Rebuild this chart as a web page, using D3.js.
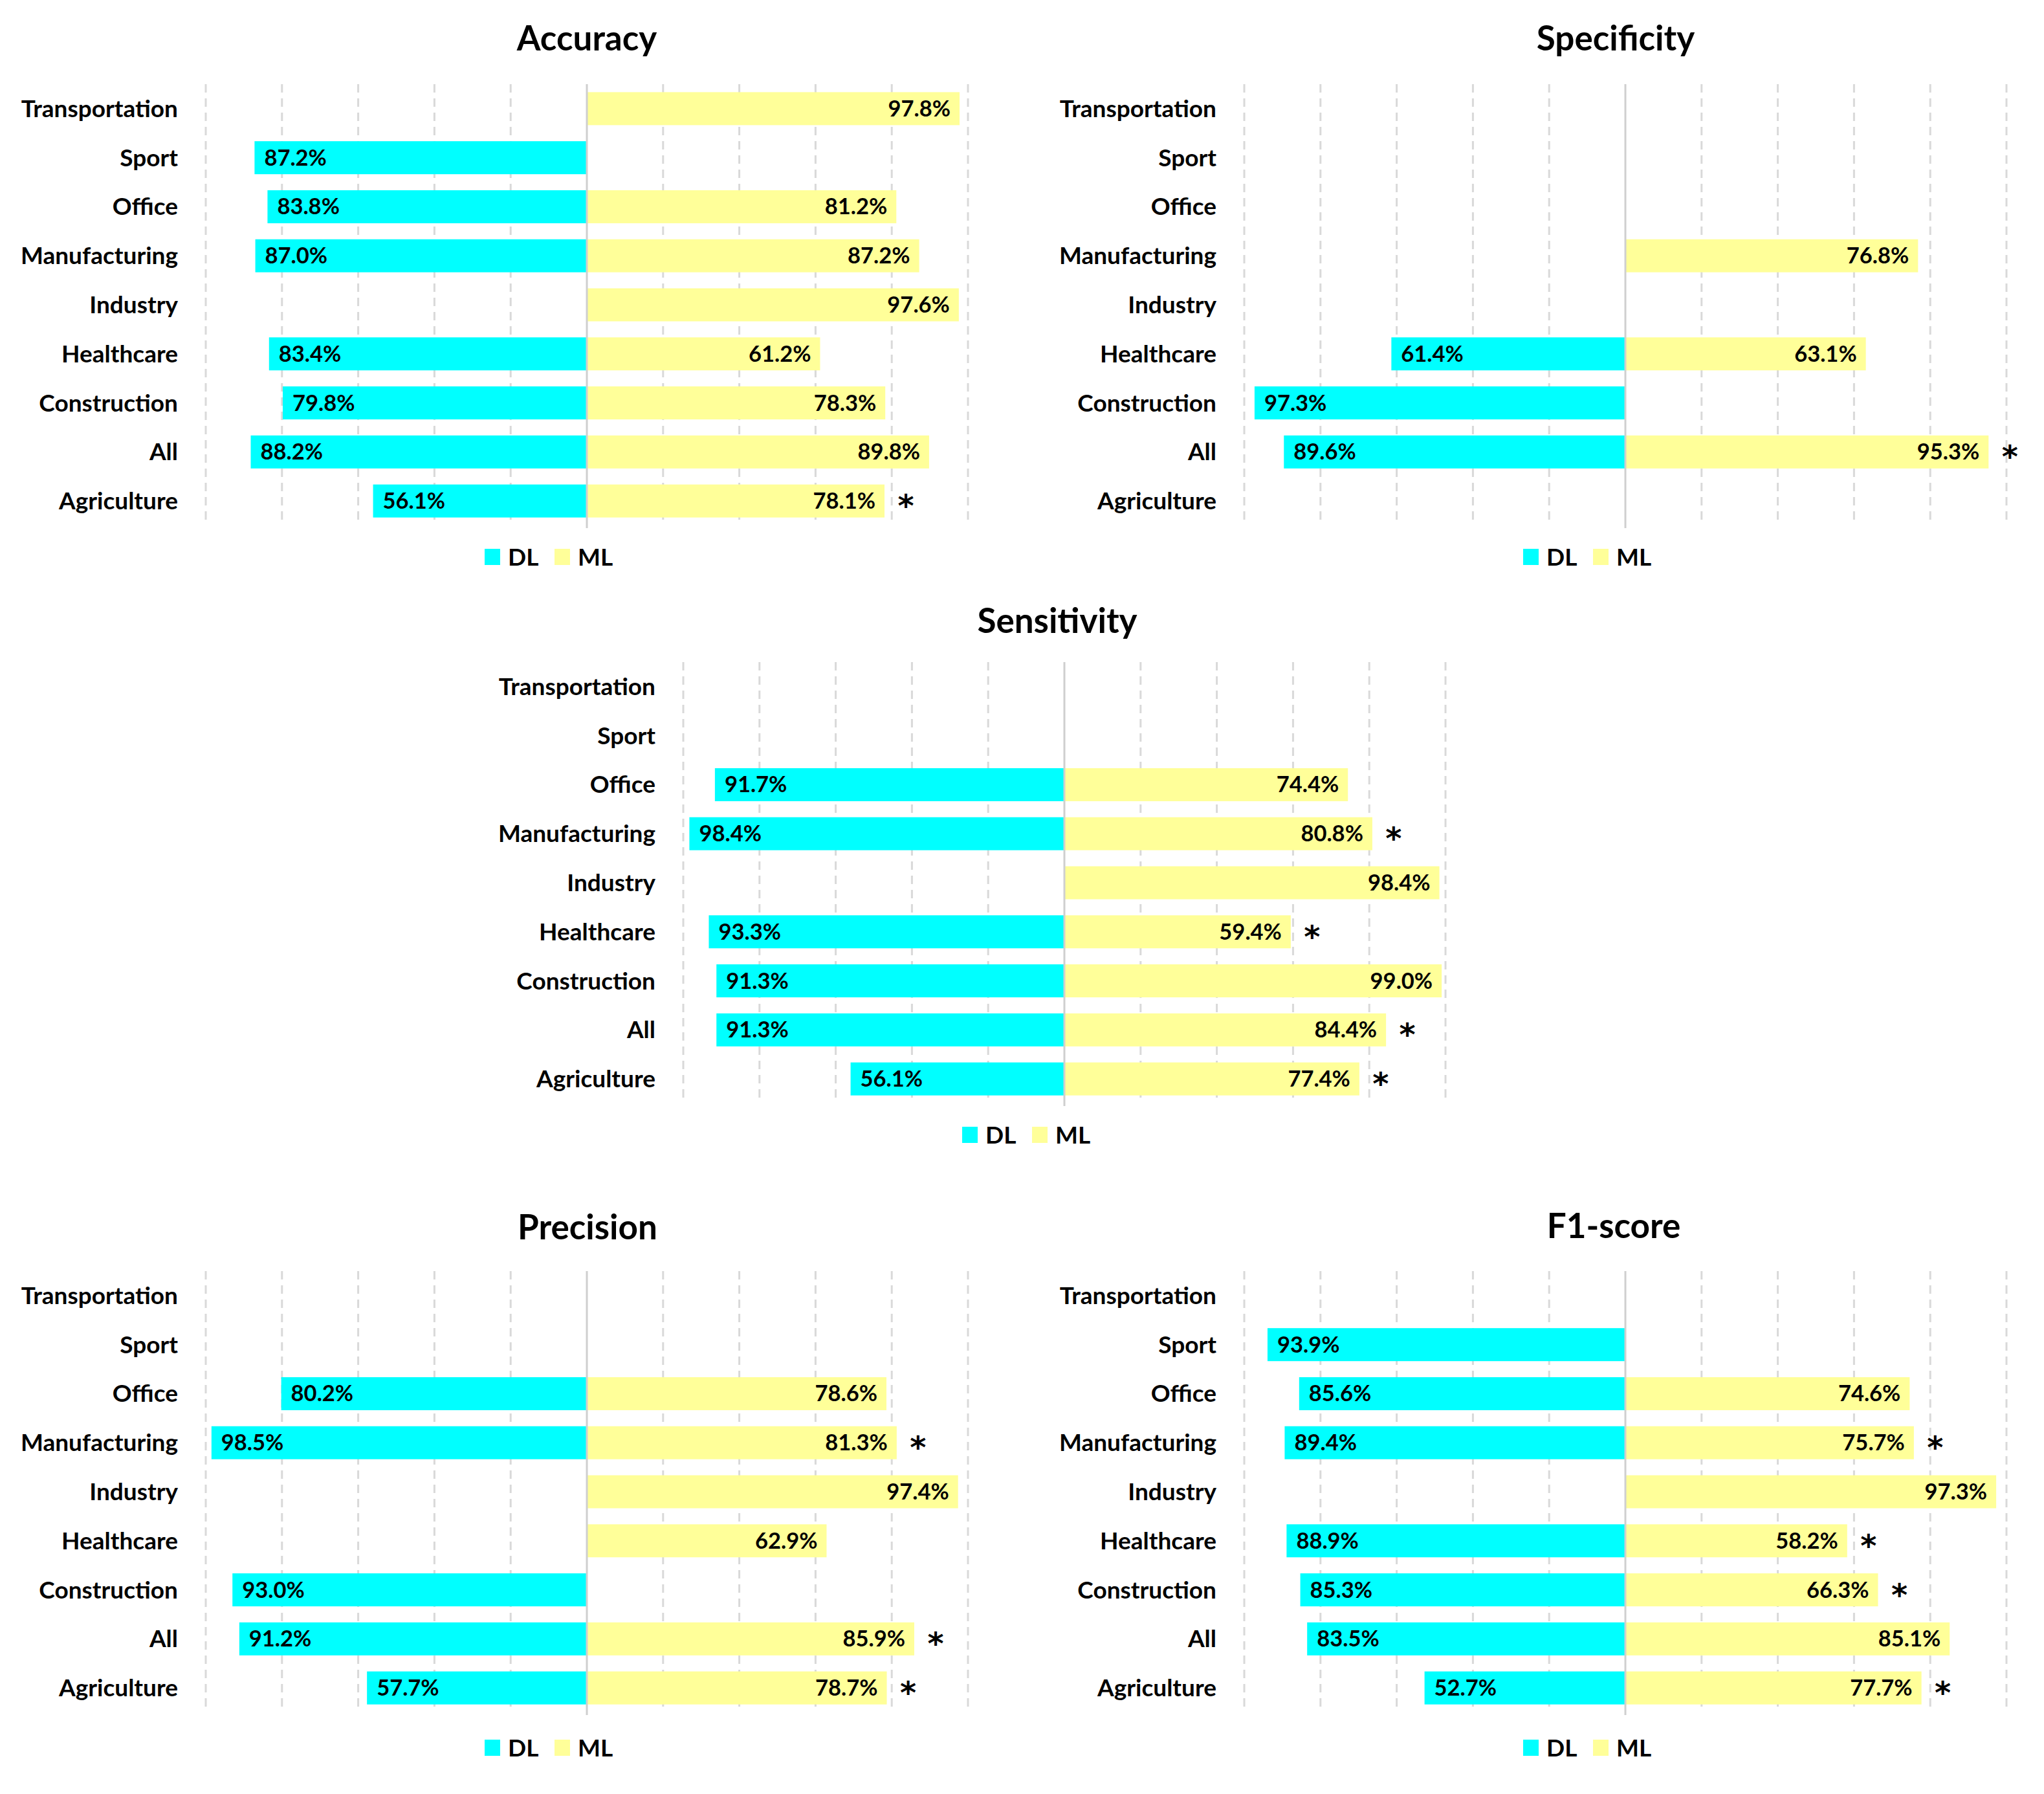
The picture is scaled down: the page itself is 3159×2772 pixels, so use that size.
<!DOCTYPE html>
<html>
<head>
<meta charset="utf-8">
<script src="https://cdn.jsdelivr.net/npm/d3@7"></script>
<style>
  html, body { margin: 0; padding: 0; background: #fff; }
  svg { display: block; }
  text { font-family: Lato, "Open Sans", sans-serif; font-weight: 700; fill: #000; }
</style>
</head>
<body>
<script>
// ---------- data ----------
const categories = ["Transportation","Sport","Office","Manufacturing","Industry","Healthcare","Construction","All","Agriculture"];
const seriesNames = ["DL","ML"];
const gridTicks = [-100,-80,-60,-40,-20,0,20,40,60,80,100];

const accuracyDL    = [null,87.2,83.8,87.0,null,83.4,79.8,88.2,56.1];
const accuracyML    = [97.8,null,81.2,87.2,97.6,61.2,78.3,89.8,78.1];
const accuracyStar  = [0,0,0,0,0,0,0,0,1];

const specificityDL   = [null,null,null,null,null,61.4,97.3,89.6,null];
const specificityML   = [null,null,null,76.8,null,63.1,null,95.3,null];
const specificityStar = [0,0,0,0,0,0,0,1,0];

const sensitivityDL   = [null,null,91.7,98.4,null,93.3,91.3,91.3,56.1];
const sensitivityML   = [null,null,74.4,80.8,98.4,59.4,99.0,84.4,77.4];
const sensitivityStar = [0,0,0,1,0,1,0,1,1];

const precisionDL   = [null,null,80.2,98.5,null,null,93.0,91.2,57.7];
const precisionML   = [null,null,78.6,81.3,97.4,62.9,null,85.9,78.7];
const precisionStar = [0,0,0,1,0,0,0,1,1];

const f1DL   = [null,93.9,85.6,89.4,null,88.9,85.3,83.5,52.7];
const f1ML   = [null,null,74.6,75.7,97.3,58.2,66.3,85.1,77.7];
const f1Star = [0,0,0,1,0,1,1,0,1];

const panelTitles = ["Accuracy","Specificity","Sensitivity","Precision","F1-score"];

// ---------- layout ----------
const W = 3159, H = 2772;
const colors = { DL: "#00FFFF", ML: "#FFFF99" };
const layouts = [
  { cx: 907,  gt: 130,  tx: 907,  ty: 78,   ly: 0 },
  { cx: 2512, gt: 130,  tx: 2497, ty: 78,   ly: 0 },
  { cx: 1645, gt: 1023, tx: 1634, ty: 978,  ly: 0 },
  { cx: 907,  gt: 1964, tx: 908,  ty: 1915, ly: 6 },
  { cx: 2512, gt: 1964, tx: 2494, ty: 1913, ly: 6 }
];
const panelData = [
  [accuracyDL, accuracyML, accuracyStar],
  [specificityDL, specificityML, specificityStar],
  [sensitivityDL, sensitivityML, sensitivityStar],
  [precisionDL, precisionML, precisionStar],
  [f1DL, f1ML, f1Star]
];

const svg = d3.select("body").append("svg").attr("width", W).attr("height", H);
svg.append("rect").attr("width", W).attr("height", H).attr("fill", "#fff");

const halfW = 589, plotH = 682;

panelData.forEach(([dl, ml, star], pi) => {
  const L = layouts[pi];
  const g = svg.append("g");
  const x = d3.scaleLinear().domain([-100, 100]).range([L.cx - halfW, L.cx + halfW]);
  const y = d3.scaleBand().domain(categories).range([L.gt, L.gt + plotH])
              .paddingInner(0.327).paddingOuter(0.1635);

  // grid
  g.selectAll("line.grid").data(gridTicks.filter(t => t !== 0)).join("line")
    .attr("x1", d => x(d)).attr("x2", d => x(d))
    .attr("y1", L.gt).attr("y2", L.gt + plotH - 4)
    .attr("stroke", "#d9d9d9").attr("stroke-width", 3)
    .attr("stroke-dasharray", "13,9");

  // title
  g.append("text").attr("x", L.tx).attr("y", L.ty).attr("text-anchor", "middle")
    .attr("font-size", 53).text(panelTitles[pi]);

  // category labels
  g.selectAll("text.cat").data(categories).join("text")
    .attr("x", L.cx - 632).attr("y", d => y(d) + y.bandwidth() / 2 + 13)
    .attr("text-anchor", "end").attr("font-size", 37).text(d => d);

  const rows = categories.map((c, i) => ({ c, dl: dl[i], ml: ml[i], star: star[i] }));

  // DL bars
  const dlRows = rows.filter(r => r.dl != null);
  g.selectAll("rect.dl").data(dlRows).join("rect")
    .attr("x", d => x(-d.dl)).attr("width", d => x(0) - x(-d.dl))
    .attr("y", d => y(d.c)).attr("height", y.bandwidth())
    .attr("fill", colors.DL);
  // ML bars
  const mlRows = rows.filter(r => r.ml != null);
  g.selectAll("rect.ml").data(mlRows).join("rect")
    .attr("x", x(0)).attr("width", d => x(d.ml) - x(0))
    .attr("y", d => y(d.c)).attr("height", y.bandwidth())
    .attr("fill", colors.ML);

  // centre axis line
  g.append("line").attr("x1", x(0)).attr("x2", x(0))
    .attr("y1", L.gt).attr("y2", L.gt + plotH + 4)
    .attr("stroke", "#cfcfcf").attr("stroke-width", 3);

  // labels
  g.selectAll("text.dlv").data(dlRows).join("text")
    .attr("x", d => x(-d.dl) + 15).attr("y", d => y(d.c) + y.bandwidth() / 2 + 12)
    .attr("font-size", 34.5).text(d => d.dl.toFixed(1) + "%");
  g.selectAll("text.mlv").data(mlRows).join("text")
    .attr("x", d => x(d.ml) - 14).attr("y", d => y(d.c) + y.bandwidth() / 2 + 12)
    .attr("text-anchor", "end").attr("font-size", 34.5).text(d => d.ml.toFixed(1) + "%");
  g.selectAll("text.star").data(mlRows.filter(r => r.star)).join("text")
    .attr("x", d => x(d.ml) + 33).attr("y", d => y(d.c) + y.bandwidth() / 2 + 24)
    .attr("text-anchor", "middle")
    .style("font-family", "'DejaVu Sans', sans-serif")
    .attr("font-size", 48).text("*");

  // legend
  const lg = g.append("g");
  const legItems = [
    { name: seriesNames[0], sx: -158, tx: -122 },
    { name: seriesNames[1], sx: -50, tx: -14 }
  ];
  legItems.forEach(it => {
    lg.append("rect").attr("x", L.cx + it.sx).attr("y", L.gt + 718 + L.ly)
      .attr("width", 24).attr("height", 25).attr("fill", colors[it.name]);
    lg.append("text").attr("x", L.cx + it.tx).attr("y", L.gt + 744 + L.ly)
      .attr("font-size", 37).text(it.name);
  });
});
</script>
</body>
</html>
